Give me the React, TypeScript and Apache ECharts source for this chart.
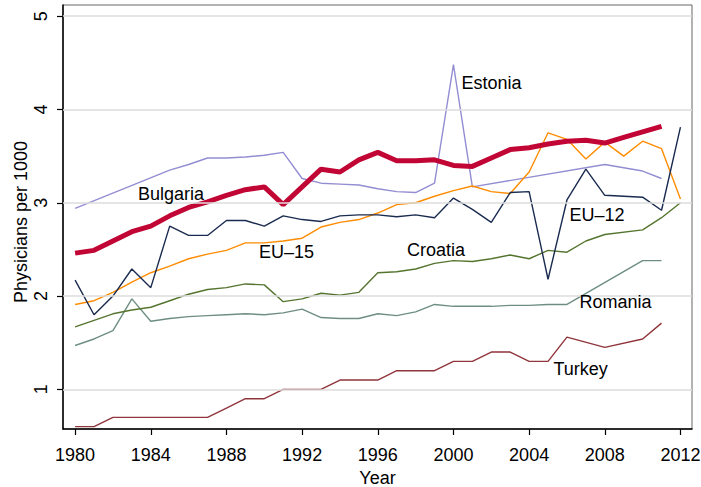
import React, { useEffect, useRef } from "react";
import * as echarts from "echarts";

const years = [1980, 1981, 1982, 1983, 1984, 1985, 1986, 1987, 1988, 1989, 1990, 1991, 1992, 1993, 1994, 1995, 1996, 1997, 1998, 1999, 2000, 2001, 2002, 2003, 2004, 2005, 2006, 2007, 2008, 2009, 2010, 2011, 2012];

const bulgaria = [2.46, 2.49, 2.59, 2.69, 2.75, 2.86, 2.95, 3.01, 3.08, 3.14, 3.17, 2.98, 3.17, 3.36, 3.33, 3.46, 3.54, 3.45, 3.45, 3.46, 3.40, 3.39, 3.48, 3.57, 3.59, 3.63, 3.66, 3.67, 3.64, 3.70, 3.76, 3.82, null];
const estonia = [2.94, null, null, null, null, 3.35, 3.41, 3.48, 3.48, 3.49, 3.51, 3.54, 3.26, 3.21, 3.20, 3.19, 3.15, 3.12, 3.11, 3.21, 4.48, 3.17, null, null, null, null, null, null, 3.41, null, 3.34, 3.26, null];
const eu12 = [2.17, 1.80, 2.00, 2.29, 2.09, 2.75, 2.65, 2.65, 2.81, 2.81, 2.75, 2.86, 2.82, 2.80, 2.86, 2.87, 2.87, 2.85, 2.87, 2.84, 3.05, 2.93, 2.79, 3.11, 3.12, 2.18, 3.03, 3.36, 3.08, null, 3.06, 2.92, 3.81];
const eu15 = [1.91, 1.95, 2.04, 2.15, 2.25, 2.32, 2.40, 2.45, 2.49, 2.57, 2.57, 2.59, 2.62, 2.74, 2.79, 2.82, 2.89, 2.98, 3.00, 3.07, 3.13, 3.18, 3.12, 3.10, 3.33, 3.75, 3.68, 3.47, 3.65, 3.50, 3.66, 3.58, 3.04];
const croatia = [1.67, 1.74, 1.81, 1.85, 1.88, 1.95, 2.02, 2.07, 2.09, 2.13, 2.12, 1.94, 1.97, 2.03, 2.01, 2.04, 2.25, 2.26, 2.29, 2.35, 2.38, 2.37, 2.40, 2.44, 2.40, 2.49, 2.47, 2.59, 2.66, null, 2.71, 2.84, 3.00];
const romania = [1.47, 1.54, 1.63, 1.97, 1.73, 1.76, 1.78, 1.79, 1.80, 1.81, 1.80, 1.82, 1.86, 1.77, 1.76, 1.76, 1.81, 1.79, 1.83, 1.91, 1.89, 1.89, 1.89, 1.90, 1.90, 1.91, 1.91, null, null, null, 2.38, 2.38, null];
const turkey = [0.60, 0.60, 0.70, 0.70, 0.70, 0.70, 0.70, 0.70, 0.80, 0.90, 0.90, 1.00, 1.00, 1.00, 1.10, 1.10, 1.10, 1.20, 1.20, 1.20, 1.30, 1.30, 1.40, 1.40, 1.30, 1.30, 1.56, null, 1.45, null, 1.54, 1.71, null];

const xTicks = [1980, 1984, 1988, 1992, 1996, 2000, 2004, 2008, 2012];
const yTicks = [1, 2, 3, 4, 5];

const seriesNames = ["Estonia", "Romania", "Croatia", "Turkey", "EU–15", "EU–12", "Bulgaria"];

const FONT = "'Liberation Sans', Arial, Helvetica, sans-serif";

function toPairs(vals: (number | null)[]) {
  const out: [number, number][] = [];
  vals.forEach((v, i) => {
    if (v !== null) out.push([years[i], v]);
  });
  return out;
}

export default function App() {
  const ref = useRef<HTMLDivElement>(null);
  useEffect(() => {
    if (!ref.current) return;
    const chart = echarts.init(ref.current, null, { renderer: "svg" });
    const seriesData: Record<string, (number | null)[]> = {
      Estonia: estonia,
      Romania: romania,
      Croatia: croatia,
      Turkey: turkey,
      "EU–15": eu15,
      "EU–12": eu12,
      Bulgaria: bulgaria,
    };
    const colors: Record<string, string> = {
      Estonia: "#938dd2",
      Romania: "#6e8e84",
      Croatia: "#55752f",
      Turkey: "#90353b",
      "EU–15": "#ff8c00",
      "EU–12": "#1a2b50",
      Bulgaria: "#c10534",
    };
    const widths: Record<string, number> = {
      Estonia: 1.4,
      Romania: 1.4,
      Croatia: 1.4,
      Turkey: 1.4,
      "EU–15": 1.4,
      "EU–12": 1.4,
      Bulgaria: 5,
    };
    const labels = [
      { text: "Bulgaria", x: 138, y: 194 },
      { text: "Estonia", x: 461.5, y: 83 },
      { text: "EU–15", x: 259, y: 251.5 },
      { text: "Croatia", x: 407, y: 249.5 },
      { text: "EU–12", x: 569.5, y: 215 },
      { text: "Romania", x: 579.5, y: 301.5 },
      { text: "Turkey", x: 553.5, y: 368.5 },
    ];
    const option: any = {
      animation: false,
      backgroundColor: "#ffffff",
      grid: {
        left: 63,
        top: 5,
        right: 9,
        bottom: 58,
        show: true,
        borderColor: "#666",
        borderWidth: 1,
        containLabel: false,
        outerBoundsMode: "none",
      },
      xAxis: {
        type: "value",
        min: 1979.36,
        max: 2012.61,
        name: "Year",
        nameLocation: "middle",
        nameGap: 37,
        nameTextStyle: { fontSize: 18, color: "#000", fontFamily: FONT },
        axisLine: { show: true, lineStyle: { color: "#000", width: 1.5 } },
        axisTick: { show: true, length: 6, customValues: xTicks, lineStyle: { color: "#000", width: 1.2 } },
        axisLabel: {
          customValues: xTicks,
          fontSize: 18,
          color: "#000",
          margin: 17,
          fontFamily: FONT,
          formatter: (v: number) => String(v),
        },
        splitLine: { show: false },
      },
      yAxis: {
        type: "value",
        min: 0.575,
        max: 5.12,
        name: "Physicians per 1000",
        nameLocation: "middle",
        nameRotate: 90,
        nameGap: 33,
        nameTextStyle: { fontSize: 18, color: "#000", fontFamily: FONT, padding: [0, 0, 0, -10] },
        axisLine: { show: true, lineStyle: { color: "#000", width: 1.5 } },
        axisTick: { show: true, length: 6, customValues: yTicks, lineStyle: { color: "#000", width: 1.2 } },
        axisLabel: { show: false, customValues: yTicks },
        splitLine: { show: false },
      },
      series: [
        {
          type: "line",
          data: [],
          z: 1,
          silent: true,
          markLine: {
            silent: true,
            symbol: "none",
            label: { show: false },
            lineStyle: { color: "#dcdcdc", width: 1.5, type: "solid" },
            data: yTicks.map((v) => ({ yAxis: v })),
          },
        },
        ...seriesNames.map((n) => ({
          name: n,
          type: "line",
          z: 3,
          silent: true,
          symbol: "none",
          data: toPairs(seriesData[n]),
          lineStyle: { color: colors[n], width: widths[n] },
          itemStyle: { color: colors[n] },
        })),
      ],
    };
    chart.setOption(option);
    const yLabelEls = yTicks.map((v) => {
      const py = chart.convertToPixel({ yAxisIndex: 0 }, v) as number;
      return {
        type: "text",
        x: 41,
        y: py,
        rotation: Math.PI / 2,
        z: 10,
        style: {
          text: String(v),
          fill: "#000",
          font: `18px ${FONT}`,
          align: "center",
          verticalAlign: "middle",
        },
      };
    });
    const labelEls = labels.map((l) => ({
      type: "text",
      x: l.x,
      y: l.y,
      z: 10,
      style: {
        text: l.text,
        fill: "#000",
        font: `18px ${FONT}`,
        verticalAlign: "middle",
        align: "left",
      },
    }));
    chart.setOption({ graphic: [...yLabelEls, ...labelEls] });
    return () => chart.dispose();
  }, []);
  return (
    <div
      ref={ref}
      style={{ position: "fixed", left: 0, top: 0, width: 701, height: 487 }}
    />
  );
}
